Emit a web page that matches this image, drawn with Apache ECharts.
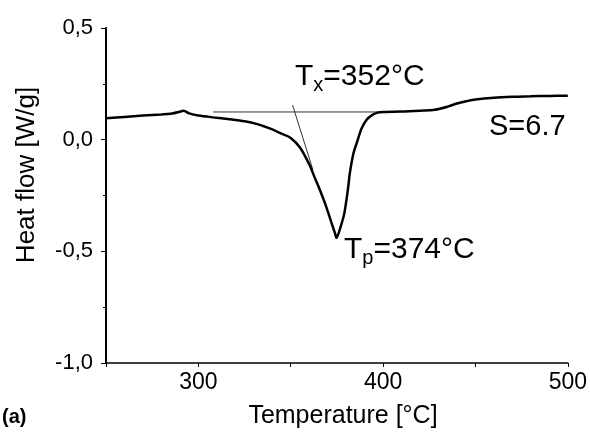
<!DOCTYPE html>
<html>
<head>
<meta charset="utf-8">
<script src="https://cdn.jsdelivr.net/npm/echarts@6/dist/echarts.min.js"></script>
<style>
html,body{margin:0;padding:0;background:#fff;}
#chart{width:590px;height:432px;}
</style>
</head>
<body>
<div id="chart"></div>
<script>
// Measured DSC curve
var temps = [250, 260, 270, 280, 285, 290, 292, 295, 300, 310, 317, 325, 330, 335, 340, 345, 350, 355, 360, 363, 366, 369, 372, 374, 374.7, 377, 379, 381, 382, 384, 385.7, 388.4, 391, 394, 397, 400, 410, 420, 428, 435, 440, 445, 450, 460, 470, 480, 490, 500];
var heatFlow = [0.096, 0.102, 0.108, 0.113, 0.116, 0.125, 0.13, 0.118, 0.108, 0.098, 0.091, 0.082, 0.074, 0.061, 0.046, 0.027, 0.008, -0.035, -0.11, -0.17, -0.23, -0.295, -0.37, -0.42, -0.44, -0.39, -0.33, -0.22, -0.15, -0.06, -0.016, 0.051, 0.088, 0.11, 0.121, 0.124, 0.126, 0.13, 0.134, 0.148, 0.162, 0.172, 0.18, 0.188, 0.192, 0.194, 0.196, 0.197];
// Construction lines
var baselineT = [308, 400];
var baselineV = [0.124, 0.124];
var tangentT = [351, 362];
var tangentV = [0.155, -0.135];
// Axis ticks
var xTicks = [300, 400, 500];
var yTicks = [-1.0, -0.5, 0.0, 0.5];

function pairs(a, b) { return a.map(function (v, i) { return [v, b[i]]; }); }

var chart = echarts.init(document.getElementById('chart'), null, {renderer: 'canvas'});
var fontFam = '"Liberation Sans", Arial, sans-serif';
chart.setOption({
  animation: false,
  backgroundColor: '#ffffff',
  grid: {left: 106, right: 22, top: 28, bottom: 69, containLabel: false},
  xAxis: {
    type: 'value', min: 250, max: 500, interval: 50,
    axisLine: {show: true, onZero: false, lineStyle: {color: '#000', width: 1.5}},
    axisTick: {show: true, length: 4, inside: false, lineStyle: {color: '#000', width: 1}},
    axisLabel: {
      fontFamily: fontFam, fontSize: 23, color: '#000', margin: 8,
      formatter: function (v) { return xTicks.indexOf(v) >= 0 ? String(v) : ''; }
    },
    splitLine: {show: false}
  },
  yAxis: {
    type: 'value', min: -1.0, max: 0.5, interval: 0.5,
    axisLine: {show: true, onZero: false, lineStyle: {color: '#000', width: 2}},
    axisTick: {show: true, length: 5, lineStyle: {color: '#000', width: 1}},
    minorTick: {show: true, splitNumber: 2, length: 3, lineStyle: {color: '#000', width: 1}},
    axisLabel: {
      fontFamily: fontFam, fontSize: 22, color: '#000', margin: 13,
      formatter: function (v) {
        var r = Math.round(v * 10) / 10;
        if (yTicks.indexOf(r) < 0) return '';
        var s = Math.abs(r).toFixed(1).replace('.', ',');
        return (r < 0 ? '-' : '') + s;
      }
    },
    splitLine: {show: false}
  },
  series: [
    {
      type: 'line', data: pairs(temps, heatFlow), showSymbol: false, smooth: 0.3,
      lineStyle: {color: '#000', width: 2.5}, z: 3
    },
    {
      type: 'line', data: pairs(baselineT, baselineV), showSymbol: false,
      lineStyle: {color: '#333', width: 1}, z: 2
    },
    {
      type: 'line', data: pairs(tangentT, tangentV), showSymbol: false,
      lineStyle: {color: '#333', width: 1}, z: 2
    }
  ],
  graphic: [
    {type: 'text', left: 295, top: 62, style: {
      text: '{b|T}{s|x}{b|=352°C}', fill: '#000',
      rich: {b: {fontFamily: fontFam, fontSize: 30, fill: '#000'}, s: {fontFamily: fontFam, fontSize: 20, fill: '#000', padding: [16, 0, 0, 0]}}
    }},
    {type: 'text', left: 344, top: 235, style: {
      text: '{b|T}{s|p}{b|=374°C}', fill: '#000',
      rich: {b: {fontFamily: fontFam, fontSize: 30, fill: '#000'}, s: {fontFamily: fontFam, fontSize: 20, fill: '#000', padding: [16, 0, 0, 0]}}
    }},
    {type: 'text', left: 489, top: 112, style: {
      text: 'S=6.7', fontFamily: fontFam, fontSize: 29, fill: '#000'
    }},
    {type: 'text', x: 27, y: 175, rotation: Math.PI / 2, style: {
      text: 'Heat flow [W/g]', fontFamily: fontFam, fontSize: 26, fill: '#000',
      align: 'center', verticalAlign: 'middle'
    }},
    {type: 'text', x: 343, y: 416, style: {
      text: 'Temperature [°C]', fontFamily: fontFam, fontSize: 25, fill: '#000',
      align: 'center', verticalAlign: 'middle'
    }},
    {type: 'text', left: 2, top: 407, style: {
      text: '(a)', fontFamily: fontFam, fontSize: 20, fontWeight: 'bold', fill: '#000'
    }}
  ]
});
</script>
</body>
</html>
